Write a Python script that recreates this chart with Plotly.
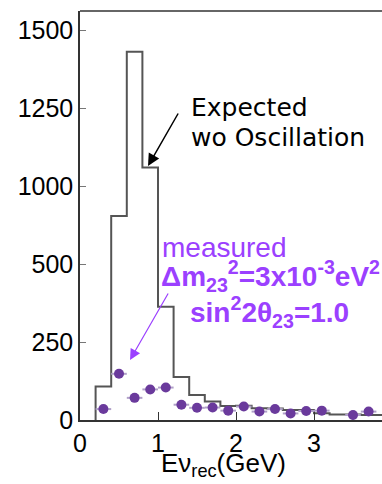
import numpy as np
import plotly.graph_objects as go

# ---- data (label units) ----
bin_edges = [0.2, 0.4, 0.6, 0.8, 1.0, 1.2, 1.4, 1.6, 1.8, 2.0, 2.2, 2.4, 2.6, 2.8, 3.0, 3.2, 3.4, 3.6, 3.8, 4.0]
expected = [107, 808, 1430, 1059, 363, 138, 80, 59, 45, 46, 38, 37, 32, 32, 22, 18, 18, 16, 16]

meas_x = [0.3, 0.5, 0.7, 0.9, 1.1, 1.3, 1.5, 1.7, 1.9, 2.1, 2.3, 2.5, 2.7, 2.9, 3.1, 3.5, 3.7]
meas_y = [35, 148, 71, 98, 104, 49, 39, 40, 30, 43, 27, 35, 21, 29, 30, 16, 27]

ytick_labels = [0, 250, 500, 1000, 1250, 1500]
ytick_pos = [0, 250, 500, 750, 1000, 1250]   # the axis is evenly spaced between these labels
xtick_vals = [0, 1, 2, 3]
x_title = "Eν<sub>rec</sub>(GeV)"

def to_axis(v):
    return np.interp(v, ytick_labels, ytick_pos)

# step histogram
hx = [bin_edges[0]] + bin_edges
hy = [0] + list(expected) + [expected[-1]]
hy_axis = to_axis(np.array(hy, dtype=float))

W, H = 382, 484
L, R, T, B = 80, 0, 11, 64
xr = [0, (W - L - R) / 78.0]
yr = [0, (H - T - B) * 250 / 78.0]

def px2x(px):
    return (px - L) / 78.0

def py2y(py):
    return (H - B - py) * 250 / 78.0

fig = go.Figure()
fig.add_trace(go.Scatter(x=hx, y=hy_axis, mode="lines", line=dict(shape="hv", color="#555555", width=2),
                         hoverinfo="skip", showlegend=False))
fig.add_trace(go.Scatter(x=meas_x, y=to_axis(np.array(meas_y, dtype=float)), mode="markers",
                         marker=dict(color="#6a3a9c", size=10, line=dict(width=0)),
                         error_x=dict(type="constant", value=0.1, color="#b0a0c8", thickness=2, width=0),
                         showlegend=False))

purple = "#9b40ff"
fig.add_annotation(x=px2x(148), y=py2y(166), ax=31, ay=-54, xref="x", yref="y",
                   showarrow=True, arrowhead=2, arrowsize=1.6, arrowwidth=1.5, arrowcolor="black", text="")
fig.add_annotation(x=px2x(130), y=py2y(360), ax=39, ay=-68, xref="x", yref="y",
                   showarrow=True, arrowhead=2, arrowsize=1.8, arrowwidth=1.2, arrowcolor=purple, text="")

def label(px, py, text, size, color, family, anchor="left"):
    fig.add_annotation(x=px2x(px), y=py2y(py), xref="x", yref="y", text=text, showarrow=False,
                       xanchor=anchor, yanchor="middle", font=dict(size=size, color=color, family=family))

label(189, 107, "Expected", 25, "black", "DejaVu Sans")
label(189, 137, "wo Oscillation", 25, "black", "DejaVu Sans")
label(160, 247, "measured", 28, purple, "Liberation Sans")
label(159, 276, "<b>Δm<sub>23</sub><sup>2</sup>=3x10<sup>-3</sup>eV<sup>2</sup></b>", 28, purple, "Liberation Sans")
label(188, 312, "<b>sin<sup>2</sup>2θ<sub>23</sub>=1.0</b>", 28, purple, "Liberation Sans")

# x-axis title placed as paper-anchored text
fig.add_annotation(x=(223 - L) / (W - L - R), y=(H - B - 464) / (H - T - B), xref="paper", yref="paper",
                   text=x_title, showarrow=False, xanchor="center", yanchor="middle",
                   font=dict(size=26, color="black", family="Liberation Sans"))

fig.update_layout(
    width=W, height=H, margin=dict(l=L, r=R, t=T, b=B),
    plot_bgcolor="white", paper_bgcolor="white",
    font=dict(family="Liberation Sans", size=25, color="black"),
    xaxis=dict(range=xr, tickvals=xtick_vals, ticks="inside", ticklen=8, tickcolor="#333",
               showgrid=False, zeroline=False, showline=True, linecolor="#333", linewidth=1.5,
               mirror=False),
    yaxis=dict(range=yr, tickvals=ytick_pos, ticktext=[str(t) for t in ytick_labels],
               ticks="inside", ticklen=6, tickcolor="#777", showgrid=False, zeroline=False,
               showline=True, linecolor="#333", linewidth=1.5, mirror=False),
    shapes=[dict(type="line", xref="paper", yref="paper", x0=0, x1=1, y0=1, y1=1,
                 line=dict(color="#333", width=1.5))],
)

fig.write_html("out.html")
